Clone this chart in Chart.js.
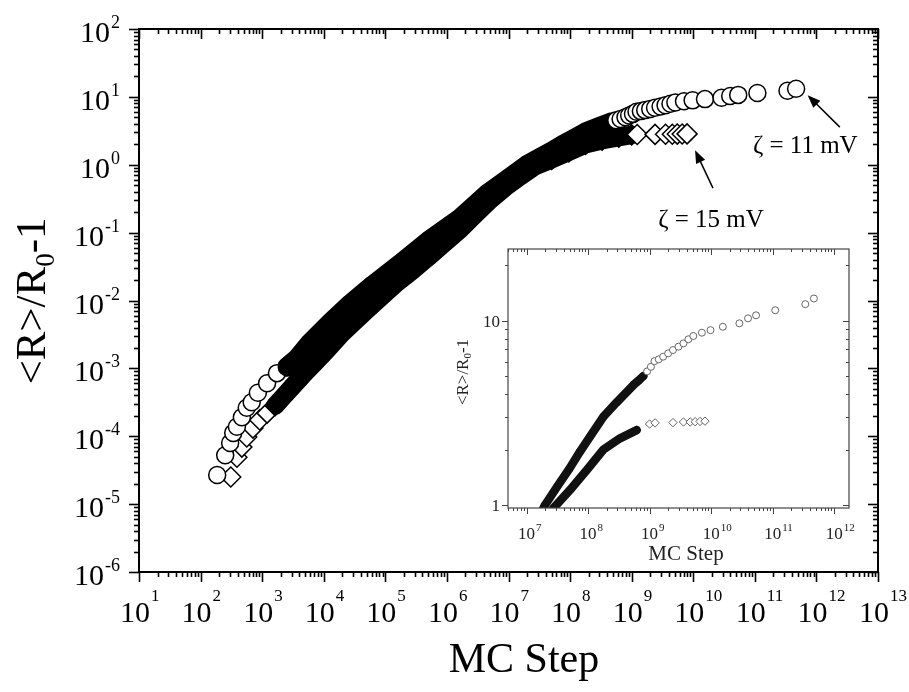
<!DOCTYPE html>
<html>
<head>
<meta charset="utf-8">
<script src="https://cdn.jsdelivr.net/npm/chart.js@4.4.1/dist/chart.umd.min.js"></script>
<style>
  html, body { margin: 0; padding: 0; background: #fff; }
  #wrap { position: relative; width: 909px; height: 692px; }
  #mainChart { position: absolute; left: 0; top: 0; }
  #insetChart { position: absolute; left: 440px; top: 236px; }
</style>
</head>
<body>
<div id="wrap">
  <canvas id="mainChart" width="909" height="692"></canvas>
  <canvas id="insetChart" width="425" height="335"></canvas>
</div>
<script>
// zeta = 11 mV, circles: MC step and <R>/R0 - 1
let stepsZeta11 = [186, 251, 302, 339, 389, 468, 562, 676, 851, 1202, 1738, 2512, 3631, 6026,
    1.26e4, 2.69e4, 6.31e4, 1.74e5, 5.01e5, 1.62e6, 4.47e6, 1.0e7, 2.0e7, 3.16e7, 5.01e7,
    7.41e7, 1.07e8, 1.78e8, 2.88e8, 4.79e8, 5.62e8, 6.61e8, 7.94e8, 9.12e8, 1.05e9, 1.20e9,
    1.41e9, 1.66e9, 2.0e9, 2.40e9, 2.95e9, 3.55e9, 4.27e9, 5.13e9, 7.08e9, 9.77e9, 1.55e10,
    2.88e10, 3.98e10, 5.37e10, 1.10e11, 3.39e11, 4.68e11];
let radiusZeta11 = [2.69e-5, 5.25e-5, 7.94e-5, 1.12e-4, 1.38e-4, 1.91e-4, 2.63e-4, 3.16e-4, 4.37e-4,
    6.03e-4, 8.51e-4, 1.05e-3, 1.38e-3, 2.40e-3, 4.68e-3, 8.91e-3, 1.70e-2, 3.47e-2, 7.59e-2,
    0.162, 0.372, 0.631, 1.0, 1.26, 1.58, 1.95, 2.34, 3.02, 3.59, 4.27, 4.52, 4.73, 5.01, 5.31,
    5.62, 6.03, 6.17, 6.38, 6.65, 6.93, 7.23, 7.53, 7.93, 8.26, 8.61, 8.89, 9.27, 9.68, 10.3,
    10.7, 11.4, 12.3, 13.2];

// zeta = 15 mV, diamonds
let stepsZeta15 = [309, 389, 468, 562, 708, 912, 1202, 1622, 2188, 3162, 4571, 7079, 1.12e4,
    2.0e4, 3.16e4, 5.01e4, 8.91e4, 1.58e5, 2.82e5, 5.01e5, 8.91e5, 1.62e6, 2.82e6, 5.01e6,
    8.91e6, 1.55e7, 2.69e7, 5.01e7, 9.55e7, 1.78e8, 3.31e8, 6.17e8, 1.0e9, 1.23e9, 2.40e9,
    3.55e9, 4.57e9, 5.50e9, 6.61e9, 7.94e9];
let radiusZeta15 = [2.51e-5, 4.90e-5, 6.92e-5, 9.77e-5, 1.32e-4, 1.74e-4, 2.19e-4, 2.82e-4,
    3.80e-4, 5.50e-4, 7.94e-4, 1.20e-3, 1.86e-3, 3.31e-3, 4.90e-3, 7.24e-3, 1.17e-2, 1.86e-2,
    2.82e-2, 4.37e-2, 6.92e-2, 0.110, 0.182, 0.302, 0.468, 0.676, 0.955, 1.20, 1.55, 2.0, 2.30,
    2.55, 2.75, 2.79, 2.80, 2.82, 2.82, 2.83, 2.84, 2.85];

// tick labels
let mainXExponents = [1, 2, 3, 4, 5, 6, 7, 8, 9, 10, 11, 12, 13];
let mainYExponents = [-6, -5, -4, -3, -2, -1, 0, 1, 2];
let insetXExponents = [7, 8, 9, 10, 11, 12];
let insetYLabels = [1, 10];

const SERIF = "'Liberation Serif', 'Times New Roman', 'DejaVu Serif', serif";
const CLEAR = 'rgba(0,0,0,0)';

function font(px) {
    return px + 'px ' + SERIF;
}

function toPoints(xs, ys) {
    return xs.map((x, i) => ({ x: x, y: ys[i] }));
}

// One series: where the markers pile up they are drawn as a solid band
function seriesDataset(label, xs, ys, look) {
    let dense = i => xs[i] >= look.denseFrom && xs[i] <= look.denseTo;
    return {
        label: label,
        data: toPoints(xs, ys),
        showLine: true,
        borderWidth: look.band,
        borderColor: CLEAR,
        borderCapStyle: 'round',
        borderJoinStyle: 'round',
        segment: {
            borderColor: ctx => dense(ctx.p0DataIndex) && dense(ctx.p1DataIndex) ? look.ink : CLEAR
        },
        pointStyle: look.shape,
        pointRadius: look.radius,
        pointHoverRadius: look.radius,
        pointBorderWidth: look.edge,
        pointBorderColor: ctx => dense(ctx.dataIndex) ? look.ink : look.edgeColor,
        pointBackgroundColor: ctx => dense(ctx.dataIndex) ? look.ink : '#fff',
        clip: 0
    };
}

function drawLogTicks(ctx, area, scale, side, majorLen, minorLen) {
    let lo = Math.floor(Math.log10(scale.min));
    let hi = Math.ceil(Math.log10(scale.max));
    for (let e = lo; e <= hi; e++) {
        for (let m = 1; m <= 9; m++) {
            let v = m * Math.pow(10, e);
            if (v < scale.min * 0.9999 || v > scale.max * 1.0001) continue;
            let p = Math.round(scale.getPixelForValue(v)) + 0.5;
            let len = m === 1 ? majorLen : minorLen;
            ctx.beginPath();
            if (side === 'left') { ctx.moveTo(area.left, p); ctx.lineTo(area.left - len, p); }
            if (side === 'right') { ctx.moveTo(area.right, p); ctx.lineTo(area.right - len, p); }
            if (side === 'bottom') { ctx.moveTo(p, area.bottom); ctx.lineTo(p, area.bottom + len); }
            if (side === 'top') { ctx.moveTo(p, area.top); ctx.lineTo(p, area.top + len); }
            ctx.stroke();
        }
    }
}

// "10" with a raised exponent, y is the baseline of "10"
function drawPower(ctx, x, y, exp, f) {
    let sup = String(exp);
    ctx.font = font(f.base);
    let wb = ctx.measureText('10').width;
    ctx.font = font(f.sup);
    let we = ctx.measureText(sup).width;
    let x0 = f.align === 'center' ? x - wb / 2 + (f.shift || 0) : x - wb - f.gap - we;
    ctx.textAlign = 'left';
    ctx.textBaseline = 'alphabetic';
    ctx.font = font(f.base);
    ctx.fillText('10', x0, y);
    ctx.font = font(f.sup);
    ctx.fillText(sup, x0 + wb + f.gap, y - f.rise);
}

// rotated "<R>/R0-1", centred on cy, baseline at x
function drawRatioTitle(ctx, x, cy, size) {
    let subSize = Math.round(size * 0.62);
    ctx.font = font(size);
    let w1 = ctx.measureText('<R>/R').width;
    let w3 = ctx.measureText('-1').width;
    ctx.font = font(subSize);
    let w2 = ctx.measureText('0').width;
    let total = w1 + w2 + w3;
    ctx.save();
    ctx.translate(x, cy + total / 2);
    ctx.rotate(-Math.PI / 2);
    ctx.textAlign = 'left';
    ctx.textBaseline = 'alphabetic';
    ctx.font = font(size);
    ctx.fillText('<R>/R', 0, 0);
    ctx.font = font(subSize);
    ctx.fillText('0', w1, size * 0.2);
    ctx.font = font(size);
    ctx.fillText('-1', w1 + w2, 0);
    ctx.restore();
}

function drawArrow(ctx, x0, y0, x1, y1, head, half) {
    let a = Math.atan2(y1 - y0, x1 - x0);
    ctx.beginPath();
    ctx.moveTo(x0, y0);
    ctx.lineTo(x1 - Math.cos(a) * head * 0.8, y1 - Math.sin(a) * head * 0.8);
    ctx.stroke();
    ctx.beginPath();
    ctx.moveTo(x1, y1);
    ctx.lineTo(x1 - Math.cos(a) * head + Math.sin(a) * half, y1 - Math.sin(a) * head - Math.cos(a) * half);
    ctx.lineTo(x1 - Math.cos(a) * head - Math.sin(a) * half, y1 - Math.sin(a) * head + Math.cos(a) * half);
    ctx.closePath();
    ctx.fill();
}

// frame, mirrored log ticks, labels and titles
function framePlugin(look) {
    return {
        id: 'frame',
        afterDraw(chart) {
            let ctx = chart.ctx, area = chart.chartArea;
            let xs = chart.scales.x, ys = chart.scales.y;
            ctx.save();
            ctx.strokeStyle = look.color;
            ctx.fillStyle = look.color;
            ctx.lineWidth = look.frame;
            ctx.strokeRect(area.left, area.top, area.right - area.left, area.bottom - area.top);
            ctx.lineWidth = look.tickWidth;
            drawLogTicks(ctx, area, xs, 'bottom', look.major, look.minor);
            drawLogTicks(ctx, area, xs, 'top', look.major, look.minor);
            drawLogTicks(ctx, area, ys, 'left', look.major, look.minor);
            drawLogTicks(ctx, area, ys, 'right', look.major, look.minor);

            ctx.fillStyle = look.textColor;
            look.xExponents.forEach(e => {
                drawPower(ctx, xs.getPixelForValue(Math.pow(10, e)), area.bottom + look.xLabelDrop, e, look.xFont);
            });
            if (look.yExponents) {
                look.yExponents.forEach(e => {
                    drawPower(ctx, area.left - look.yLabelGap, ys.getPixelForValue(Math.pow(10, e)) + look.yLabelDrop, e, look.yFont);
                });
            }
            if (look.yPlain) {
                ctx.font = font(look.yFont.base);
                ctx.textAlign = 'right';
                ctx.textBaseline = 'alphabetic';
                look.yPlain.forEach(v => {
                    ctx.fillText(String(v), area.left - look.yLabelGap, ys.getPixelForValue(v) + look.yLabelDrop);
                });
            }

            ctx.font = font(look.xTitle.size);
            ctx.textAlign = 'center';
            ctx.textBaseline = 'alphabetic';
            ctx.fillText('MC Step', look.xTitle.x, look.xTitle.y);
            drawRatioTitle(ctx, look.yTitle.x, look.yTitle.cy, look.yTitle.size);

            if (look.notes) {
                ctx.fillStyle = '#000';
                ctx.strokeStyle = '#000';
                ctx.lineWidth = 1.5;
                look.notes.forEach(n => {
                    ctx.font = font(n.size);
                    ctx.textAlign = 'left';
                    ctx.fillText(n.text, xs.getPixelForValue(n.at[0]), ys.getPixelForValue(n.at[1]));
                    drawArrow(ctx,
                        xs.getPixelForValue(n.from[0]), ys.getPixelForValue(n.from[1]),
                        xs.getPixelForValue(n.to[0]), ys.getPixelForValue(n.to[1]), 13, 5);
                });
            }
            ctx.restore();
        }
    };
}

let mainLook = {
    color: '#000', textColor: '#000', frame: 2, tickWidth: 1.6, major: 10, minor: 5,
    xExponents: mainXExponents, yExponents: mainYExponents,
    xLabelDrop: 50, xFont: { base: 30, sup: 17, rise: 21, gap: 1, shift: -4, align: 'center' },
    yLabelGap: 19, yLabelDrop: 13, yFont: { base: 30, sup: 18, rise: 14, gap: 1, align: 'right' },
    xTitle: { size: 42, x: 524, y: 672 },
    yTitle: { size: 43, x: 45, cy: 301 },
    notes: [
        { text: '\u03B6 = 11 mV', size: 25, at: [9.3e10, 1.48], from: [2.4e12, 3.58], to: [7.2e11, 10.6] },
        { text: '\u03B6 = 15 mV', size: 25, at: [2.69e9, 0.12], from: [2.09e10, 0.452], to: [1.07e10, 1.64] }
    ]
};

let insetLook = {
    color: '#444', textColor: '#222', frame: 1.2, tickWidth: 1, major: 6, minor: 3,
    xExponents: insetXExponents, yPlain: insetYLabels,
    xLabelDrop: 31, xFont: { base: 17, sup: 11, rise: 8, gap: 1, align: 'center' },
    yLabelGap: 8, yLabelDrop: 6, yFont: { base: 17 },
    xTitle: { size: 21, x: 246, y: 324 },
    yTitle: { size: 17, x: 28, cy: 136 }
};

function buildChart(canvasId, datasets, padding, xRange, yRange, look) {
    return new Chart(document.getElementById(canvasId), {
        type: 'scatter',
        data: { datasets: datasets },
        options: {
            responsive: false,
            animation: false,
            devicePixelRatio: 1,
            events: [],
            layout: { padding: padding },
            scales: {
                x: { type: 'logarithmic', min: xRange[0], max: xRange[1], display: false },
                y: { type: 'logarithmic', min: yRange[0], max: yRange[1], display: false }
            },
            plugins: { legend: { display: false }, tooltip: { enabled: false } }
        },
        plugins: [framePlugin(look)]
    });
}

buildChart('mainChart', [
    seriesDataset('\u03B6 = 11 mV', stepsZeta11, radiusZeta11,
        { shape: 'circle', radius: 8.5, edge: 1.5, band: 19.5, ink: '#000', edgeColor: '#000', denseFrom: 2400, denseTo: 5e8 }),
    seriesDataset('\u03B6 = 15 mV', stepsZeta15, radiusZeta15,
        { shape: 'rectRot', radius: 10, edge: 1.5, band: 18.5, ink: '#000', edgeColor: '#000', denseFrom: 1500, denseTo: 1.05e9 })
], { left: 139, top: 29, right: 31, bottom: 120 }, [10, 1e13], [1e-6, 100], mainLook);

buildChart('insetChart', [
    seriesDataset('\u03B6 = 11 mV', stepsZeta11, radiusZeta11,
        { shape: 'circle', radius: 3.5, edge: 1, band: 8.5, ink: '#111', edgeColor: '#666', denseFrom: 0, denseTo: 8.5e8 }),
    seriesDataset('\u03B6 = 15 mV', stepsZeta15, radiusZeta15,
        { shape: 'rectRot', radius: 4.2, edge: 1, band: 8.5, ink: '#111', edgeColor: '#666', denseFrom: 0, denseTo: 7e8 })
], { left: 68, top: 13, right: 16, bottom: 63 }, [5.0e6, 1.74e12], [0.963, 24.5], insetLook);
</script>
</body>
</html>
